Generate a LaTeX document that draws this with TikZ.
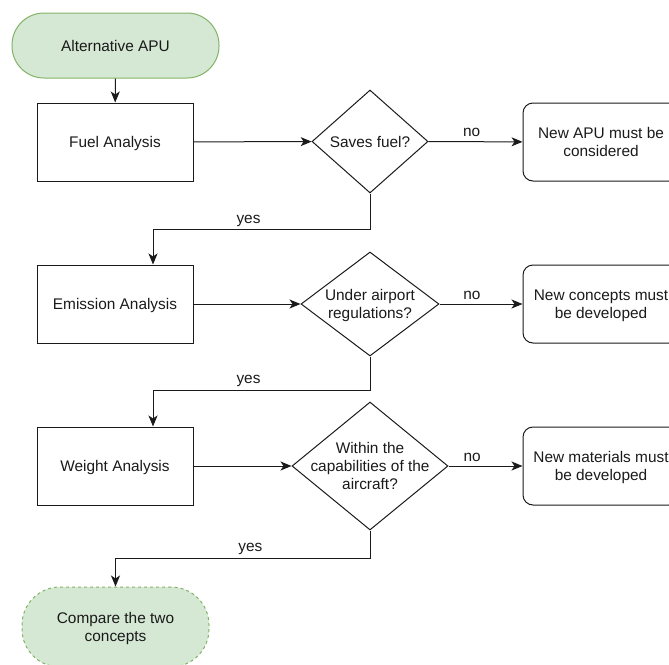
\documentclass[tikz,border=0pt]{standalone}
\usepackage{fontspec}
\setmainfont{Liberation Sans}
\usetikzlibrary{shapes.geometric,arrows.meta}
\definecolor{termfill}{HTML}{D5E8D4}
\definecolor{termline}{HTML}{82B366}
\definecolor{ink}{HTML}{1A1A1A}
\begin{document}
\begin{tikzpicture}[x=1pt,y=-1pt,
  every node/.style={font=\fontsize{15.4}{18}\selectfont, text=ink},
  proc/.style={draw=ink, line width=1pt, minimum width=156pt, minimum height=78pt, inner sep=0pt, align=center, text depth=0pt},
  outcome/.style={proc, rounded corners=10pt},
  term/.style={draw=termline, fill=termfill, line width=1pt, inner sep=0pt, align=center, text depth=0pt},
  decision/.style={draw=ink, line width=1pt, diamond, inner sep=0pt},
  dlabel/.style={align=center, text depth=0pt},
  arr/.style={draw=ink, line width=1pt, -{Stealth[length=11pt,width=9pt,inset=3pt]}}
]
\useasboundingbox (0,0) rectangle (669,664);

% terminals
\node[term, minimum width=207pt, minimum height=65pt, rounded corners=32pt] (start) at (115.5,45.5) {Alternative APU};
\node[term, dashed, dash pattern=on 3pt off 3pt, minimum width=187pt, minimum height=80pt, rounded corners=38pt] (finish) at (115.5,627) {Compare the two\\concepts};

% process boxes
\node[proc] (fuel) at (115,142) {Fuel Analysis};
\node[proc] (emis) at (115,304) {Emission Analysis};
\node[proc] (weight) at (115,466) {Weight Analysis};

% decisions
\node[decision, minimum width=116pt, minimum height=103pt, label={[dlabel]center:Saves fuel?}] (d1) at (370,141.5) {};
\node[decision, minimum width=138pt, minimum height=104pt, label={[dlabel]center:Under airport\\regulations?}] (d2) at (370,304) {};
\node[decision, minimum width=156pt, minimum height=128pt, label={[dlabel]center:Within the\\capabilities of the\\aircraft?}] (d3) at (370,466) {};

% outcomes
\node[outcome] (o1) at (601,142) {New APU must be\\considered};
\node[outcome] (o2) at (601,304) {New concepts must\\be developed};
\node[outcome] (o3) at (601,466) {New materials must\\be developed};

% connectors
\draw[arr] (start) -- (fuel);
\draw[arr] (fuel) -- (d1);
\draw[arr] (emis) -- (d2);
\draw[arr] (weight) -- (d3);
\draw[arr] (d1) -- node[pos=0.46, above=1pt]{no} (o1);
\draw[arr] (d2) -- node[pos=0.39, above=1pt]{no} (o2);
\draw[arr] (d3) -- node[pos=0.32, above=1pt]{no} (o3);
\draw[arr] (d1.south) -- ++(0,36) -| node[pos=0.28, above=-1pt]{yes} ([xshift=38pt]emis.north);
\draw[arr] (d2.south) -- ++(0,34) -| node[pos=0.28, above=0pt]{yes} ([xshift=38pt]weight.north);
\draw[arr] (d3.south) -- ++(0,28) -| node[pos=0.235, above=0pt]{yes} (finish.north);
\end{tikzpicture}
\end{document}
